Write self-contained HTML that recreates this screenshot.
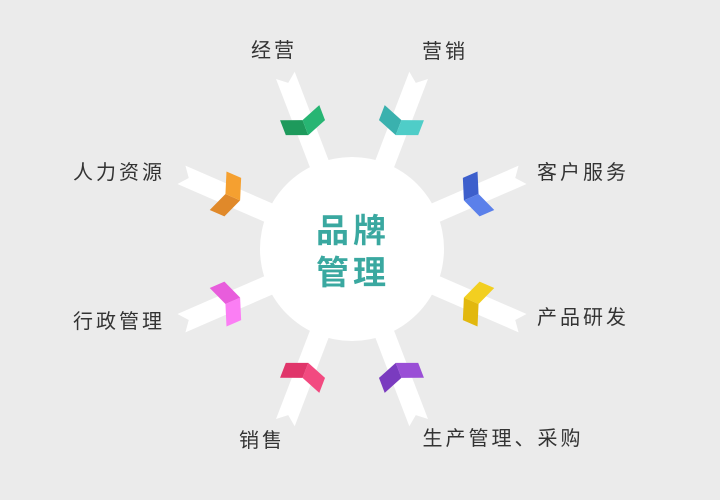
<!DOCTYPE html><html><head><meta charset="utf-8"><style>
body{margin:0;background:#ebebeb;}
svg{display:block}
text{font-family:"Liberation Sans","Noto Sans CJK SC",sans-serif;}
</style></head><body>
<svg width="720" height="500" viewBox="0 0 720 500">
<rect width="720" height="500" fill="#ebebeb"/>
<defs>
<g id="band"><polygon points="70,-10 186,-10 178,0 186,10 70,10" fill="#fff"/></g>
</defs>
<g transform="translate(352,249)">
<g transform="rotate(-111)"><use href="#band"/><polygon points="122,0 130,-21 146,-21 138,0" fill="#1e9a5c"/><polygon points="122,0 138,0 146,21 130,21" fill="#27b573"/></g>
<g transform="rotate(-69)"><use href="#band"/><polygon points="122,0 130,-21 146,-21 138,0" fill="#3ab1ae"/><polygon points="122,0 138,0 146,21 130,21" fill="#4fcdc8"/></g>
<g transform="rotate(-23.5)"><use href="#band"/><polygon points="122,0 130,-21 146,-21 138,0" fill="#3d5fcc"/><polygon points="122,0 138,0 146,21 130,21" fill="#5b80ea"/></g>
<g transform="rotate(23.5)"><use href="#band"/><polygon points="122,0 130,-21 146,-21 138,0" fill="#f2cf20"/><polygon points="122,0 138,0 146,21 130,21" fill="#e2b80e"/></g>
<g transform="rotate(69)"><use href="#band"/><polygon points="122,0 130,-21 146,-21 138,0" fill="#9a4fd6"/><polygon points="122,0 138,0 146,21 130,21" fill="#7a3bbf"/></g>
<g transform="rotate(111)"><use href="#band"/><polygon points="122,0 130,-21 146,-21 138,0" fill="#f24a80"/><polygon points="122,0 138,0 146,21 130,21" fill="#e0356a"/></g>
<g transform="rotate(156.5)"><use href="#band"/><polygon points="122,0 130,-21 146,-21 138,0" fill="#fb7ef4"/><polygon points="122,0 138,0 146,21 130,21" fill="#e85ddc"/></g>
<g transform="rotate(-156.5)"><use href="#band"/><polygon points="122,0 130,-21 146,-21 138,0" fill="#e0892a"/><polygon points="122,0 138,0 146,21 130,21" fill="#f5a030"/></g>
<circle r="92" fill="#fff"/>
<text x="1" y="-7" text-anchor="middle" font-size="33" font-weight="bold" fill="#3aa8a0" letter-spacing="4">品牌</text>
<text x="1" y="35" text-anchor="middle" font-size="33" font-weight="bold" fill="#3aa8a0" letter-spacing="4">管理</text>
</g>
<g font-size="20" fill="#333" text-anchor="middle" letter-spacing="3">
<text x="274" y="57">经营</text>
<text x="445" y="58">营销</text>
<text x="583" y="179">客户服务</text>
<text x="583" y="324">产品研发</text>
<text x="503" y="445">生产管理、采购</text>
<text x="262" y="447">销售</text>
<text x="119" y="328">行政管理</text>
<text x="119" y="179">人力资源</text>
</g>
</svg>
</body></html>
